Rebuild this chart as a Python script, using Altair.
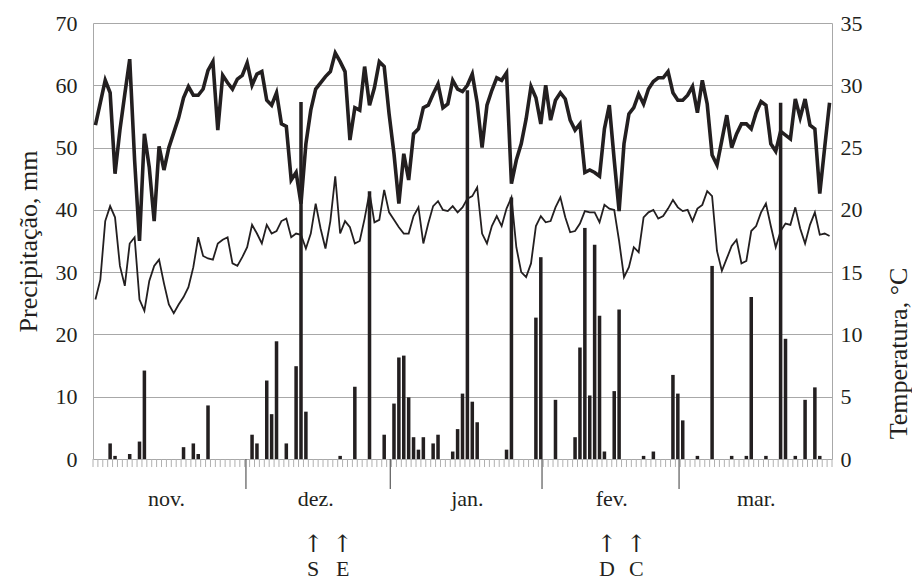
import altair as alt
import pandas as pd

INK = "#231f20"
GRID = "#a8a8a8"
SERIF = "Liberation Serif"

# daily maximum temperature (°C), 1 Nov .. 31 Mar
tmax = [
    26.8, 28.6, 30.4, 29.4, 22.9, 26.4, 29.3, 32.1, 24.0, 17.5,
    26.1, 23.4, 19.1, 25.1, 23.2, 25.0, 26.2, 27.4, 29.0, 29.9,
    29.2, 29.2, 29.7, 31.2, 31.9, 26.4, 30.8, 30.2, 29.7, 30.5,
    30.8, 31.8, 30.0, 30.9, 31.1, 28.8, 28.4, 29.4, 26.9, 26.7,
    22.4, 23.0, 20.5, 25.3, 28.0, 29.7, 30.2, 30.7, 31.1, 32.6,
    31.9, 31.1, 25.6, 28.2, 28.0, 31.5, 28.4, 29.8, 31.9, 31.5,
    27.7, 24.5, 20.5, 24.5, 22.4, 26.1, 26.5, 28.2, 28.4, 29.3,
    30.1, 28.2, 28.5, 30.4, 29.7, 29.5, 30.0, 30.9, 28.6, 25.0,
    28.4, 29.6, 30.6, 30.4, 31.0, 22.1, 24.0, 25.3, 27.3, 29.9,
    29.0, 26.9, 30.0, 27.2, 28.8, 29.4, 28.9, 27.2, 26.4, 26.9,
    23.0, 23.2, 23.0, 22.7, 26.5, 28.4, 24.0, 19.9, 25.3, 27.7,
    28.2, 29.3, 28.5, 29.7, 30.3, 30.6, 30.6, 31.1, 29.4, 28.8,
    28.8, 29.2, 29.9, 27.8, 30.4, 28.5, 24.4, 23.6, 25.6, 27.6,
    25.0, 26.1, 26.9, 26.9, 26.5, 27.8, 28.7, 28.4, 25.3, 24.7,
    26.3, 26.0, 25.7, 28.9, 27.4, 28.9, 26.8, 26.5, 21.3, 25.0,
    28.6,
]

# daily minimum temperature (°C)
tmin = [
    12.8, 14.4, 19.1, 20.3, 19.4, 15.5, 13.9, 17.3, 17.8, 12.8,
    11.9, 14.3, 15.5, 16.0, 14.1, 12.4, 11.7, 12.4, 13.0, 13.8,
    15.4, 17.8, 16.3, 16.1, 16.0, 17.3, 17.6, 17.8, 15.7, 15.5,
    16.2, 17.0, 18.8, 18.1, 17.3, 18.8, 18.1, 18.3, 19.1, 19.3,
    17.8, 18.1, 18.0, 16.9, 18.1, 20.5, 18.5, 16.9, 19.1, 22.7,
    18.1, 19.1, 18.6, 17.3, 17.5, 19.3, 21.4, 19.0, 19.2, 21.6,
    19.8, 19.2, 18.6, 18.1, 18.1, 19.5, 20.2, 17.3, 18.9, 20.3,
    20.7, 20.0, 19.9, 20.3, 19.8, 20.2, 20.9, 21.1, 21.8, 18.1,
    17.3, 18.7, 19.5, 18.7, 20.1, 21.0, 17.0, 15.0, 14.6, 15.7,
    18.7, 19.5, 19.0, 19.1, 20.2, 21.0, 19.4, 18.2, 18.3, 18.9,
    19.9, 19.8, 19.8, 19.0, 20.4, 20.1, 20.0, 17.5, 14.6, 15.4,
    17.0, 16.6, 19.4, 19.8, 20.0, 19.3, 19.5, 20.1, 20.8, 20.2,
    19.9, 20.0, 19.1, 20.1, 20.4, 21.5, 21.1, 16.7, 15.1, 16.1,
    17.1, 17.6, 15.7, 15.9, 18.3, 18.7, 19.8, 20.5, 18.7, 17.0,
    18.3, 18.9, 18.8, 20.2, 18.5, 17.3, 18.8, 19.8, 18.0, 18.1,
    17.9,
]

# rainy days (index from 1 Nov) and precipitation (mm)
rain_days = [
    3, 4, 7, 9, 10, 18, 20, 21, 23,
    32, 33, 35, 36, 37, 39, 41, 42, 43, 50, 53, 56, 59,
    61, 62, 63, 64, 65, 66, 67, 69, 70, 73, 74, 75, 76, 77, 78, 84, 85, 90, 91,
    94, 98, 99, 100, 101, 102, 103, 104, 106, 107, 112, 114, 118, 119,
    120, 123, 126, 130, 133, 134, 137, 140, 141, 143, 145, 147, 148,
]
rain_mm = [
    2.5, 0.5, 0.8, 2.8, 14.2, 1.9, 2.5, 0.8, 8.6,
    3.9, 2.5, 12.6, 7.2, 18.9, 2.5, 14.9, 57.3, 7.6, 0.5, 11.6, 43.0, 3.9,
    8.9, 16.3, 16.6, 9.9, 3.5, 1.5, 3.5, 2.5, 3.9, 1.2, 4.8, 10.5, 59.2, 9.2, 5.9, 1.5, 42.0, 22.7, 32.4,
    9.5, 3.5, 17.9, 37.1, 10.2, 34.4, 23.0, 1.2, 10.9, 24.0, 0.5, 1.2, 13.5, 10.5,
    6.2, 0.5, 31.0, 0.5, 0.5, 26.0, 0.5, 57.2, 19.3, 0.5, 9.5, 11.5, 0.5,
]

month_names = ["nov.", "dez.", "jan.", "fev.", "mar."]
month_lengths = [30, 31, 31, 28, 31]
separator_days = [31.25, 60.75, 91.75, 119.75]
event_days = [45, 51, 105, 111]
event_labels = ["S", "E", "D", "C"]
left_ticks = [0, 10, 20, 30, 40, 50, 60, 70]
right_ticks = [0, 5, 10, 15, 20, 25, 30, 35]

N = len(tmax)
W, H = 739, 436

temp_df = pd.DataFrame({"day": [i + 0.5 for i in range(N)], "tmax": tmax, "tmin": tmin})
rain_df = pd.DataFrame({
    "x0": [d + 0.14 for d in rain_days],
    "x1": [d + 0.86 for d in rain_days],
    "mm": rain_mm,
})
mids, start = [], 0
for L in month_lengths:
    mids.append(start + L / 2)
    start += L
month_df = pd.DataFrame({"mid": mids, "name": month_names})
sep_df = pd.DataFrame({"x": separator_days})
event_df = pd.DataFrame({"x": event_days, "label": event_labels})
tick_df = pd.DataFrame({"x": list(range(N + 1))})

xs = alt.Scale(domain=[0, N], nice=False, zero=False)

bars = alt.Chart(rain_df).mark_bar(color=INK).encode(
    x=alt.X("x0:Q", scale=xs, axis=None),
    x2="x1:Q",
    y=alt.Y(
        "mm:Q",
        scale=alt.Scale(domain=[0, 70], nice=False),
        axis=alt.Axis(
            orient="left", values=left_ticks, title="Precipitação, mm",
            grid=True, gridColor=GRID, gridWidth=1, domainColor=GRID,
            ticks=False, labelPadding=16, titlePadding=14,
            titleFontSize=26,
        ),
    ),
    y2=alt.datum(0),
)

tscale = alt.Scale(domain=[0, 35], nice=False)
right_axis = alt.Axis(
    orient="right", values=right_ticks, title="Temperatura, °C",
    grid=False, domainColor=GRID, ticks=False, labelPadding=8,
    titleAngle=270, titleBaseline="top", titlePadding=23, titleFontSize=26,
    titleAlign="center", titleY=330,
)
temp_long = temp_df.melt(id_vars="day", value_vars=["tmax", "tmin"], var_name="serie", value_name="temp")
lines = alt.Chart(temp_long).mark_line(color=INK).encode(
    x=alt.X("day:Q", scale=xs, axis=None),
    y=alt.Y("temp:Q", scale=tscale, axis=right_axis),
    detail="serie:N",
    strokeWidth=alt.StrokeWidth(
        "serie:N", scale=alt.Scale(domain=["tmax", "tmin"], range=[3.6, 1.8]), legend=None
    ),
)

day_ticks = alt.Chart(tick_df).mark_rule(color="#b0b0b0", strokeWidth=1).encode(
    x=alt.X("x:Q", scale=xs, axis=None), y=alt.value(H), y2=alt.value(H + 8)
)
seps = alt.Chart(sep_df).mark_rule(color="#666666", strokeWidth=1.3).encode(
    x=alt.X("x:Q", scale=xs, axis=None), y=alt.value(H), y2=alt.value(H + 30)
)
months = alt.Chart(month_df).mark_text(
    font=SERIF, fontSize=22, color=INK, baseline="middle"
).encode(x=alt.X("mid:Q", scale=xs, axis=None), y=alt.value(H + 40), text="name:N")
arrows = alt.Chart(event_df).mark_text(
    font="DejaVu Serif", fontSize=24, color=INK, baseline="middle", text="↑"
).encode(x=alt.X("x:Q", scale=xs, axis=None), y=alt.value(H + 86))
letters = alt.Chart(event_df).mark_text(
    font=SERIF, fontSize=22, color=INK, baseline="middle"
).encode(x=alt.X("x:Q", scale=xs, axis=None), y=alt.value(H + 110), text="label:N")

chart = alt.layer(
    bars, lines, day_ticks, seps, months, arrows, letters
).resolve_scale(y="independent").properties(
    width=W, height=H,
    autosize=alt.AutoSizeParams(type="none"),
    padding={"left": 85, "top": 15, "right": 80, "bottom": 122},
).configure_view(stroke=None).configure_axis(
    labelFont=SERIF, labelFontSize=22, labelColor=INK,
    titleFont=SERIF, titleFontSize=22, titleFontWeight="normal", titleColor=INK,
)

chart.save("out.html", embed_options={"renderer": "svg", "actions": False})
